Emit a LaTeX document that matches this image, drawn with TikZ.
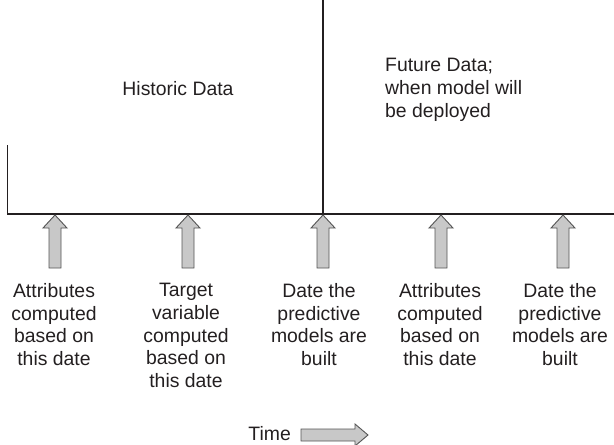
\documentclass[tikz,border=0pt]{standalone}
\usepackage{fontspec}
\setmainfont{Liberation Sans}
\begin{document}
\begin{tikzpicture}[x=1pt,y=-1pt,
  axis/.style={line width=1.5pt,draw={rgb,255:red,35;green,31;blue,32}},
  blockarrow/.style={fill={rgb,255:red,200;green,200;blue,200},draw={rgb,255:red,85;green,85;blue,85},line width=0.9pt,line join=miter},
  lbl/.style={font=\fontsize{19.4}{22.8}\selectfont,inner sep=0pt,text={rgb,255:red,35;green,31;blue,32}},
  col/.style={lbl,align=center,anchor=north},
  pics/uparrow/.style={code={
    \draw[blockarrow] (0,0) -- (12,13) -- (6,13) -- (6,53) -- (-6,53) -- (-6,13) -- (-12,13) -- cycle;
  }}]
\useasboundingbox (0,0) rectangle (614,445);

% timeline and the two vertical markers
\coordinate (tl) at (7.5,214);
\coordinate (tr) at (615,214);
\coordinate (lv) at (7.5,145);
\coordinate (nowtop) at (323,-1);
\coordinate (now) at (323,214);
\draw[axis] (lv) -- (tl) -- (tr);
\draw[axis] (nowtop) -- (now);

% region captions
\node[lbl,anchor=base] (hist) at (178,95) {Historic Data};
\node[lbl,anchor=north west,align=left] (future) at (385,58) {Future Data;\\when model will\\be deployed};

% dates on the timeline
\foreach \x in {55,188,323,441,563} {
  \pic at (\x,215) {uparrow};
}

\node[col] (c1) at (54,283) {Attributes\\computed\\based on\\this date};
\node[col] (c2) at (186,283) {Target\\variable\\computed\\based on\\this date};
\node[col] (c3) at (319,283) {Date the\\predictive\\models are\\built};
\node[col] (c4) at (440,283) {Attributes\\computed\\based on\\this date};
\node[col] (c5) at (560,283) {Date the\\predictive\\models are\\built};

% direction of time
\node[lbl,anchor=base east] (time) at (291,440) {Time};
\draw[blockarrow] (301,429) -- (355,429) -- (355,424) -- (368,435) -- (355,446) -- (355,441) -- (301,441) -- cycle;
\end{tikzpicture}
\end{document}
